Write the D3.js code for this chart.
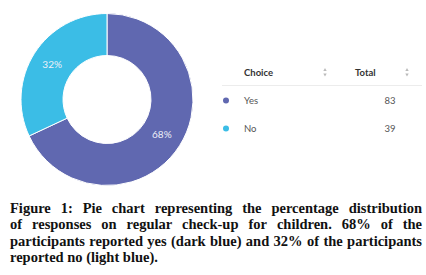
<!DOCTYPE html>
<html>
<head>
<meta charset="utf-8">
<script src="https://cdn.jsdelivr.net/npm/d3@7"></script>
<style>
  body { margin: 0; background: #fff; }
  svg { display: block; }
</style>
</head>
<body>
<svg id="chart" width="426" height="275"></svg>
<script>
// data
const choices = ['Yes', 'No'];
const totals = [83, 39];
const percents = ['68%', '32%'];
const colors = ['#6068b0', '#3bbde6'];
const captionLines = [
  'Figure 1: Pie chart representing the percentage distribution',
  'of responses on regular check-up for children. 68% of the',
  'participants reported yes (dark blue) and 32% of the participants',
  'reported no (light blue).'
];

const svg = d3.select('#chart');

// --- donut ---
const cx = 107, cy = 99.5, rOut = 86, rIn = 44;
const pie = d3.pie().sort(null).value(d => d.total);
const rows = choices.map((c, i) => ({choice: c, total: totals[i], pct: percents[i], color: colors[i]}));
const arc = d3.arc().innerRadius(rIn).outerRadius(rOut);
const g = svg.append('g').attr('transform', `translate(${cx},${cy})`);

g.selectAll('path').data(pie(rows)).join('path')
  .attr('d', arc)
  .attr('fill', d => d.data.color)
  .attr('stroke', '#fff')
  .attr('stroke-width', 1);

g.selectAll('text').data(pie(rows)).join('text')
  .attr('transform', d => `translate(${arc.centroid(d)})`)
  .attr('text-anchor', 'middle')
  .attr('dy', '0.35em')
  .attr('fill', '#eef0f8')
  .style('font-family', 'Lato, sans-serif')
  .style('font-size', '10px')
  .text(d => d.data.pct);

// --- table legend ---
const tbl = svg.append('g').style('font-family', 'Lato, sans-serif');
tbl.append('text').attr('x', 244).attr('y', 75.5)
  .attr('fill', '#333').style('font-size', '9.5px').style('font-weight', 'bold')
  .text('Choice');
tbl.append('text').attr('x', 355).attr('y', 75.5)
  .attr('fill', '#333').style('font-size', '9.5px').style('font-weight', 'bold')
  .text('Total');

// little sort arrows
[325, 407].forEach(x => {
  tbl.append('path').attr('d', d3.symbol(d3.symbolTriangle, 5)())
    .attr('transform', `translate(${x},70)`).attr('fill', '#bbb');
  tbl.append('path').attr('d', d3.symbol(d3.symbolTriangle, 5)())
    .attr('transform', `translate(${x},74.5) rotate(180)`).attr('fill', '#bbb');
});

tbl.append('line').attr('x1', 222).attr('x2', 422).attr('y1', 85.5).attr('y2', 85.5)
  .attr('stroke', '#ececec').attr('stroke-width', 1);

const y = d3.scalePoint().domain(choices).range([100.5, 128.5]);
const row = tbl.selectAll('g.row').data(rows).join('g').attr('class', 'row')
  .attr('transform', d => `translate(0,${y(d.choice)})`);
row.append('circle').attr('cx', 226).attr('cy', 0).attr('r', 3).attr('fill', d => d.color);
row.append('text').attr('x', 244).attr('dy', '0.35em')
  .attr('fill', '#555').style('font-size', '9.5px').text(d => d.choice);
row.append('text').attr('x', 395.5).attr('dy', '0.35em').attr('text-anchor', 'end')
  .attr('fill', '#555').style('font-size', '9.5px').text(d => d.total);

// --- caption, justified line by line ---
const capX0 = 10, capX1 = 422, capY0 = 213, lineH = 16.3;
const cap = svg.append('g')
  .style('font-family', '"Liberation Serif", serif')
  .style('font-weight', 'bold')
  .style('font-size', '14.5px')
  .attr('fill', '#111');

captionLines.forEach((line, li) => {
  const words = line.split(' ');
  const yy = capY0 + li * lineH;
  const last = li === captionLines.length - 1;
  const nodes = words.map(w => cap.append('text').attr('y', yy).text(w));
  const widths = nodes.map(n => n.node().getComputedTextLength());
  const total = d3.sum(widths);
  const spaceW = 3.6;
  const gap = last ? spaceW : (capX1 - capX0 - total) / (words.length - 1);
  let x = capX0;
  nodes.forEach((n, i) => { n.attr('x', x); x += widths[i] + gap; });
});
</script>
</body>
</html>
